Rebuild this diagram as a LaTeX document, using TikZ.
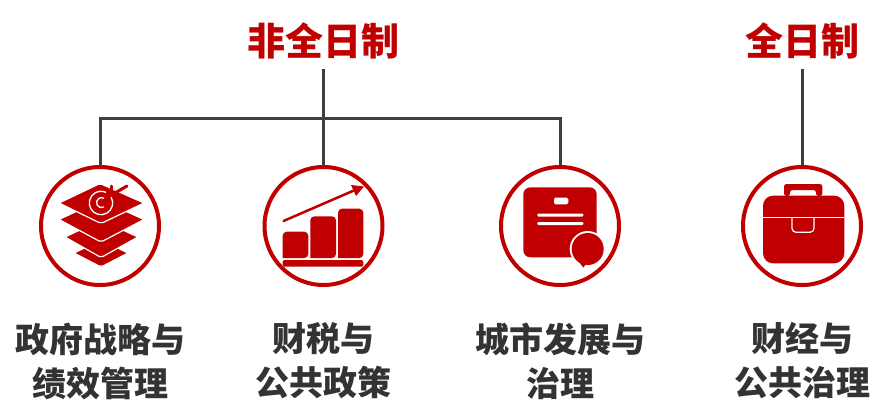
\documentclass[tikz,border=0pt]{standalone}
\usepackage{fontspec}
\newfontfamily\cjk{Noto Sans CJK SC}[BoldFont={Noto Sans CJK SC Black}]
\definecolor{dred}{HTML}{C00000}
\definecolor{dgray}{HTML}{3F3F3F}
\definecolor{dtext}{HTML}{333333}
\begin{document}
\begin{tikzpicture}[x=1pt,y=-1pt,
    ring/.style ={circle, draw=dred, line width=4pt, inner sep=0pt, minimum size=118pt},
    heading/.style ={font=\cjk\bfseries\fontsize{38}{38}\selectfont, text=dred, inner sep=0pt},
    caption/.style ={font=\cjk\bfseries\fontsize{34}{44}\selectfont, text=dtext, align=center, inner sep=0pt},
    link/.style ={draw=dgray, line width=3pt},
    icon/.style ={fill=dred, draw=none},
    layer/.style ={fill=dred, draw=white, line width=1.2pt, rounded corners=2pt},
    cut/.style ={draw=white, line width=1.3pt}]
   \useasboundingbox (0,0) rectangle (892,416);
   \node[heading] (T1)  at (323.5,41)  {非全日制};
   \node[heading] (T2)  at (802,41)  {全日制};
   \node[ring] (R1)  at (100,226)  {};
   \node[ring] (R2)  at (323.5,226)  {};
   \node[ring] (R3)  at (560,226)  {};
   \node[ring] (R4)  at (802,226)  {};
   \node[caption] (L1)  at (100.5,361)  {政府战略与\\绩效管理};
   \node[caption] (L2)  at (323.5,361)  {财税与\\公共政策};
   \node[caption] (L3)  at (560.5,361)  {城市发展与\\治理};
   \node[caption] (L4)  at (802,361)  {财经与\\公共治理};
   \coordinate (bus)  at (323.5,118);
   \draw[link] (T1.south |- 0,69) -- (bus);
   \draw[link] (R1.north) |- (bus) -| (R3.north);
   \draw[link] (bus) -- (R2.north);
   \draw[link] (T2.south |- 0,69) -- (R4.north);
   % layers
   \draw[layer] (74,253) -- (101,240) -- (128,253) -- (101,267) -- cycle;
   \draw[layer] (65,237) -- (101,220) -- (138,237) -- (101,257.5) -- cycle;
   \draw[layer] (59,219.5) -- (101,200) -- (144,219.5) -- (101,242) -- cycle;
   \draw[layer] (59,203) -- (100,183.5) -- (144,203) -- (101,223.5) -- cycle;
   \draw[dred, line width=3pt, line cap=round] (115,193) -- (127,186);
   \draw[dred, line width=3pt, line cap=round] (111,186) -- (111,191);
   \draw[cut] (101,203) ++(-30:11.7) arc[start angle=-30, delta angle=325, radius=11.7];
   \draw[cut] (104,207) arc[start angle=60, end angle=300, radius=5];
   % bars
   \fill[icon, rounded corners=4pt] (282.7,258) -- (282.7,231.7) -- (308.3,231.7) -- (308.3,258) [sharp corners] -- cycle;
   \fill[icon, rounded corners=4pt] (310.3,258) -- (310.3,216.3) -- (336,216.3) -- (336,258) [sharp corners] -- cycle;
   \fill[icon, rounded corners=4pt] (338,258) -- (338,208.7) -- (363.3,208.7) -- (363.3,258) [sharp corners] -- cycle;
   \fill[icon, rounded corners=2pt] (282.7,260) rectangle (363.3,266.7);
   \draw[dred, line width=2.5pt, line cap=round] (283.5,221) -- (355,190);
   \fill[icon] (364,186.5) -- (351,185) -- (356,196) -- cycle;
   % document
   \fill[icon, rounded corners=7pt] (523.3,187.3) rectangle (596.7,257.3);
   \fill[white, rounded corners=1.5pt] (554,197.7) rectangle (568.3,204.3);
   \fill[white, rounded corners=1pt] (537.3,213.5) rectangle (583.3,216.5);
   \fill[white, rounded corners=1pt] (537.3,222) rectangle (583.3,225);
   \fill[white] (587.7,249) circle (18);
   \fill[icon] (587.7,249) circle (16);
   \fill[icon] (579,262) -- (583.3,267.5) -- (587,263) -- cycle;
   % briefcase
   \fill[icon, rounded corners=2.5pt] (784,196) -- (784,184) -- (822.3,184) -- (822.3,196) -- (816,196) -- (816,190) -- (790,190) -- (790,196) -- cycle;
   \fill[icon, rounded corners=10pt] (763,195.7) rectangle (844.3,263.3);
   \draw[white, line width=1.2pt] (763,217.7) -- (844.3,217.7);
   \draw[white, line width=1.2pt, rounded corners=4pt] (792,217.7) -- (792,232.3) -- (814,232.3) -- (814,217.7);
 \end{tikzpicture}
\end{document}
